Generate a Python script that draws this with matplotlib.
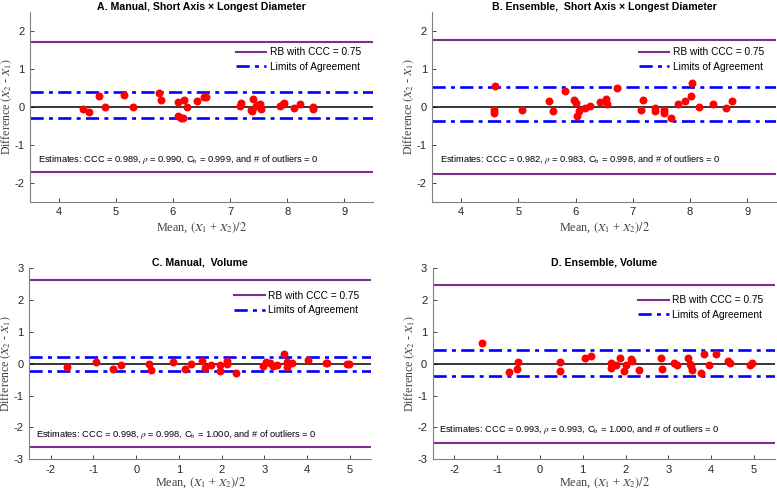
import numpy as np
from matplotlib import pyplot as plt

plt.rcParams['font.family'] = 'Liberation Sans'
plt.rcParams['mathtext.fontset'] = 'stix'
plt.rcParams['axes.unicode_minus'] = False

# panel A: manual, short axis x longest diameter
a_mean = [4.42, 4.54, 4.71, 4.81, 5.14, 5.30, 5.75, 5.79, 6.09, 6.09, 6.14, 6.17, 6.20, 6.25,
          6.43, 6.55, 6.58, 7.17, 7.20, 7.37, 7.38, 7.40, 7.45, 7.49, 7.52, 7.55, 7.87, 7.92,
          7.94, 8.11, 8.23, 8.45, 8.45]
a_diff = [-0.06, -0.13, 0.29, 0.01, 0.31, -0.01, 0.36, 0.17, 0.13, -0.23, -0.29, -0.30, 0.19, 0.01,
          0.16, 0.27, 0.25, 0.03, 0.10, -0.07, -0.12, 0.20, 0.03, 0.05, 0.09, -0.06, 0.03, 0.08,
          0.10, -0.03, 0.07, 0.01, -0.05]

# panel B: ensemble, short axis x longest diameter
b_mean = [4.59, 4.58, 4.58, 5.06, 5.53, 5.60, 5.82, 5.97, 6.01, 6.02, 6.06, 6.17, 6.26, 6.43,
          6.53, 6.54, 6.73, 7.14, 7.18, 7.39, 7.39, 7.55, 7.54, 7.67, 7.79, 7.91, 8.02, 8.03,
          8.15, 8.40, 8.63, 8.73]
b_diff = [0.55, -0.08, -0.17, -0.08, 0.15, -0.10, 0.42, 0.17, 0.11, -0.25, -0.11, -0.04, 0.03, 0.13,
          0.22, 0.07, 0.50, -0.08, 0.18, -0.03, -0.10, -0.09, -0.17, -0.28, 0.07, 0.16, 0.28, 0.62,
          0.01, 0.07, -0.04, 0.15]

# panel C: manual, volume
c_mean = [-1.62, -0.95, -0.54, -0.36, 0.31, 0.35, 0.87, 1.15, 1.28, 1.55, 1.61, 1.76, 1.96, 1.95,
          2.12, 2.13, 2.33, 2.96, 3.03, 3.13, 3.21, 3.30, 3.46, 3.52, 3.53, 3.65, 4.02, 4.43,
          4.46, 4.93, 4.98]
c_diff = [-0.09, 0.07, -0.15, -0.04, -0.01, -0.20, 0.07, -0.15, 0.00, 0.09, -0.14, -0.05, -0.03, -0.22,
          -0.01, 0.09, -0.28, -0.06, 0.05, 0.01, -0.06, -0.04, 0.30, -0.09, 0.06, 0.03, 0.12, 0.04,
          0.01, 0.00, 0.00]

# panel D: ensemble, volume
d_mean = [-1.35, -0.72, -0.54, -0.52, 0.47, 0.47, 1.05, 1.19, 1.65, 1.66, 1.77, 1.86, 1.96, 2.01,
          2.12, 2.16, 2.32, 2.82, 2.86, 3.14, 3.19, 3.45, 3.50, 3.53, 3.56, 3.76, 3.84, 3.96,
          4.11, 4.40, 4.43, 4.91, 4.96]
d_diff = [0.65, -0.26, -0.15, 0.06, 0.06, -0.22, 0.17, 0.26, -0.12, 0.03, -0.04, 0.19, -0.22, -0.04,
          0.14, 0.08, -0.19, 0.17, -0.16, 0.03, -0.04, 0.18, -0.02, -0.08, -0.18, -0.28, 0.30, -0.03,
          0.30, 0.08, 0.04, -0.03, 0.03]

titles = ['A. Manual, Short Axis \u00d7 Longest Diameter',
          'B. Ensemble,  Short Axis \u00d7 Longest Diameter',
          'C. Manual,  Volume',
          'D. Ensemble, Volume']
rb = [1.72, 1.755, 2.62, 2.48]
loa_upper = [0.387, 0.52, 0.22, 0.42]
loa_lower = [-0.29, -0.376, -0.24, -0.38]
ccc = ['0.989', '0.982', '0.998', '0.993']
rho = ['0.990', '0.983', '0.998', '0.993']
cb = ['0.999', '0.998', '1.000', '1.000']

means = [a_mean, b_mean, c_mean, d_mean]
diffs = [a_diff, b_diff, c_diff, d_diff]

purple = '#7E2F8E'
gray = '#262626'

fig = plt.figure(figsize=(7.77, 4.90), dpi=100)
boxes = [[0.0386, 0.588, 0.4414, 0.3875],
         [0.5566, 0.588, 0.4421, 0.3875],
         [0.0377, 0.0627, 0.4403, 0.3897],
         [0.5570, 0.0627, 0.4410, 0.3897]]
leg_y = [0.835, 0.835, 0.905, 0.88]

for i in range(4):
    ax = fig.add_axes(boxes[i])
    top = i < 2
    if top:
        xlim, ylim = (3.5, 9.5), (-2.5, 2.5)
        xt, yt = np.arange(4, 10), np.arange(-2, 3)
        txt_x, txt_y = 3.64, -1.44
    else:
        xlim, ylim = (-2.5, 5.5), (-3, 3)
        xt, yt = np.arange(-2, 6), np.arange(-3, 4)
        txt_x, txt_y = -2.35, (-2.29 if i == 2 else -2.14)

    ax.axhline(rb[i], color=purple, lw=1.5, label='RB with CCC = 0.75')
    ax.axhline(-rb[i], color=purple, lw=1.5)
    ax.axhline(loa_upper[i], color='#0000FF', lw=1.9, ls=(0, (5, 2, 1.5, 2)), label='Limits of Agreement')
    ax.axhline(loa_lower[i], color='#0000FF', lw=1.9, ls=(0, (5, 2, 1.5, 2)))
    ax.axhline(0, color='black', lw=1.1)
    ax.plot(means[i], diffs[i], 'o', color='#FF0000', ms=4.7, mec='#FF0000', ls='none')

    ax.text(txt_x, txt_y,
            f'Estimates: CCC = {ccc[i]}, $\\rho$ = {rho[i]}, C$_{{\\rm b}}$ = {cb[i]}, and # of outliers = 0',
            fontsize=6.7, color='black')

    ax.set_xlim(*xlim)
    ax.set_ylim(*ylim)
    ax.set_xticks(xt)
    ax.set_yticks(yt)
    ax.tick_params(direction='in', length=3, width=0.6, labelsize=8, colors=gray, pad=4)
    for s in ['top', 'right']:
        ax.spines[s].set_visible(False)
    for s in ['left', 'bottom']:
        ax.spines[s].set_color('#808080')
        ax.spines[s].set_linewidth(0.8)

    ax.set_title(titles[i], fontsize=7.6, fontweight='bold', pad=1.8)
    ax.set_xlabel('Mean, $(X_1$ + $X_2)/2$', family='Liberation Serif', fontsize=8.8, color='#404040',
                  labelpad=2 if top else 0.3)
    ax.set_ylabel('Difference $(X_2$ - $X_1)$', family='Liberation Serif', fontsize=8.6, color='#404040')
    ax.yaxis.set_label_coords(-0.047, 0.5)

    ax.legend(loc='upper right', frameon=False, fontsize=7.3, handlelength=3.0, handletextpad=0.35,
              bbox_to_anchor=(0.977, leg_y[i]), borderaxespad=0, labelspacing=0.45)

fig.savefig('out.png', dpi=100)
